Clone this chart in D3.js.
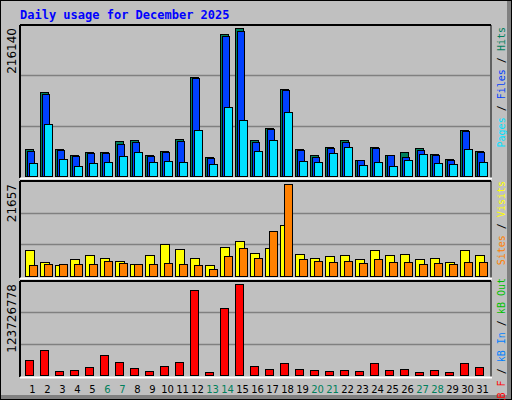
<!DOCTYPE html>
<html><head><meta charset="utf-8">
<script src="https://cdn.jsdelivr.net/npm/d3@7"></script>
<style>body{margin:0;background:#fff}</style>
</head><body>
<script>
const days = d3.range(1, 32);
const weekend = [6, 7, 13, 14, 20, 21, 27, 28];
const hits = [39420,122640,39420,30660,35040,35040,51100,52560,30660,36500,54020,144540,27740,207320,216140,52560,70080,127020,39420,30660,42340,52560,23360,42340,30660,35040,40880,32120,24820,67160,36500];
const files = [36500,119720,37960,29200,33580,33580,46720,49640,29200,35040,51100,143080,26280,204400,211700,49640,68620,125560,37960,27740,40880,49640,23360,40880,30660,27740,37960,30660,23360,65700,35040];
const pages = [18980,75920,24820,14600,18980,20440,29200,35040,20440,21900,20440,67160,17520,100740,81760,36500,52560,93440,21900,20440,33580,42340,16060,20440,14600,23360,32120,18980,17520,39420,20440];
const visits = [6030,3355,2650,4060,5000,4295,3590,2885,5000,7580,6405,4295,2650,6875,8280,5465,6640,12035,5230,4295,4760,5000,4060,6030,5000,5230,4060,4295,3355,6170,5000];
const sites = [2650,2885,2885,2885,2885,3590,3120,2885,2885,3120,2885,2650,1710,4760,6640,4295,10630,21657,4060,3590,3355,3590,3120,4060,3355,3355,2885,3120,2885,3355,3355];
const kbytes = [20700000,34300000,5800000,7200000,11200000,27500000,18000000,9900000,5800000,12600000,18000000,115600000,4500000,91200000,123726778,12600000,8500000,16700000,8500000,7200000,5800000,7200000,5800000,16700000,7200000,8500000,4500000,7200000,4500000,16700000,11200000];

const W = 512, H = 400;
const svg = d3.select("body").append("svg").attr("width", W).attr("height", H)
  .style("font-family", "'DejaVu Sans Mono', monospace");

// frame
svg.append("rect").attr("x", 0).attr("y", 0).attr("width", W).attr("height", H).attr("fill", "#000");
svg.append("rect").attr("x", 1).attr("y", 1).attr("width", W - 2).attr("height", H - 2).attr("fill", "#808080");
svg.append("rect").attr("x", 1).attr("y", 1).attr("width", W - 6).attr("height", H - 6).attr("fill", "#C0C0C0");

svg.append("text").attr("x", 20).attr("y", 19).attr("fill", "#0000FF")
  .attr("font-size", 12).attr("font-weight", "bold").text("Daily usage for December 2025");

const x = d3.scaleBand().domain(days).range([25, 490]).paddingInner(0);

function panel(top, bottom, max, label) {
  const y = d3.scaleLinear().domain([0, max]).range([bottom, top + 3]);
  const step = (bottom - top) / 3;
  [1, 2].forEach(k => svg.append("line").attr("x1", 21).attr("x2", 490)
    .attr("y1", Math.round(bottom - k * step) + 0.5).attr("y2", Math.round(bottom - k * step) + 0.5)
    .attr("stroke", "#808080").attr("stroke-width", 1.5));
  svg.append("line").attr("x1", 20).attr("x2", 491).attr("y1", top).attr("y2", top).attr("stroke", "#000").attr("stroke-width", 2);
  svg.append("line").attr("x1", 20).attr("x2", 20).attr("y1", top).attr("y2", bottom + 2).attr("stroke", "#000").attr("stroke-width", 2);
  svg.append("line").attr("x1", 491).attr("x2", 491).attr("y1", top).attr("y2", bottom + 2).attr("stroke", "#000").attr("stroke-width", 1);
  svg.append("line").attr("x1", 20).attr("x2", 492).attr("y1", bottom + 2.5).attr("y2", bottom + 2.5).attr("stroke", "#fff").attr("stroke-width", 2);
  svg.append("text").attr("transform", `translate(16,${top + 3}) rotate(-90)`).attr("text-anchor", "end")
    .attr("font-family", "'DejaVu Sans', sans-serif").attr("font-size", 12).attr("fill", "#000").text(label);
  return y;
}

function bars(data, y, dx, w, fill) {
  svg.append("g").selectAll("rect").data(data).enter().append("rect")
    .attr("x", (d, i) => x(days[i]) + dx + 0.5)
    .attr("y", d => Math.round(y(d)) + 0.5)
    .attr("width", w)
    .attr("height", d => y(0) - Math.round(y(d)))
    .attr("fill", fill).attr("stroke", "#000").attr("stroke-width", 1);
}

const y1 = panel(25, 176, 216140, "216140");
bars(hits, y1, 0, 8, "#00805C");
bars(files, y1, 2, 7, "#0040FF");
bars(pages, y1, 4, 8, "#00E0FF");

const y2 = panel(181, 276, 21657, "21657");
bars(visits, y2, 0, 9, "#FFFF00");
bars(sites, y2, 4, 8, "#FF8000");

const y3 = panel(281, 375, 123726778, "123726778");
bars(kbytes, y3, 0, 8, "#FF0000");

// day labels
svg.append("g").selectAll("text").data(days).enter().append("text")
  .attr("x", d => x(d) + 7.5).attr("y", 393).attr("text-anchor", "middle")
  .attr("font-family", "'DejaVu Sans', sans-serif").attr("font-size", 10)
  .attr("fill", d => weekend.includes(d) ? "#00805C" : "#000").text(d => d);

// right legends
function legend(yTop, parts) {
  const t = svg.append("text").attr("transform", `translate(505,${yTop}) rotate(-90)`)
    .attr("text-anchor", "end").attr("font-size", 10);
  parts.forEach(([s, c]) => t.append("tspan").attr("fill", c).text(s));
}
legend(27, [["Pages", "#00E0FF"], [" / ", "#000"], ["Files", "#0040FF"], [" / ", "#000"], ["Hits", "#00805C"]]);
legend(181, [["Sites", "#FF8000"], [" / ", "#000"], ["Visits", "#FFFF00"]]);
legend(278, [["kB F", "#FF0000"], [" / ", "#000"], ["kB In", "#0080FF"], [" / ", "#000"], ["kB Out", "#00C000"]]);
</script>
</body></html>
